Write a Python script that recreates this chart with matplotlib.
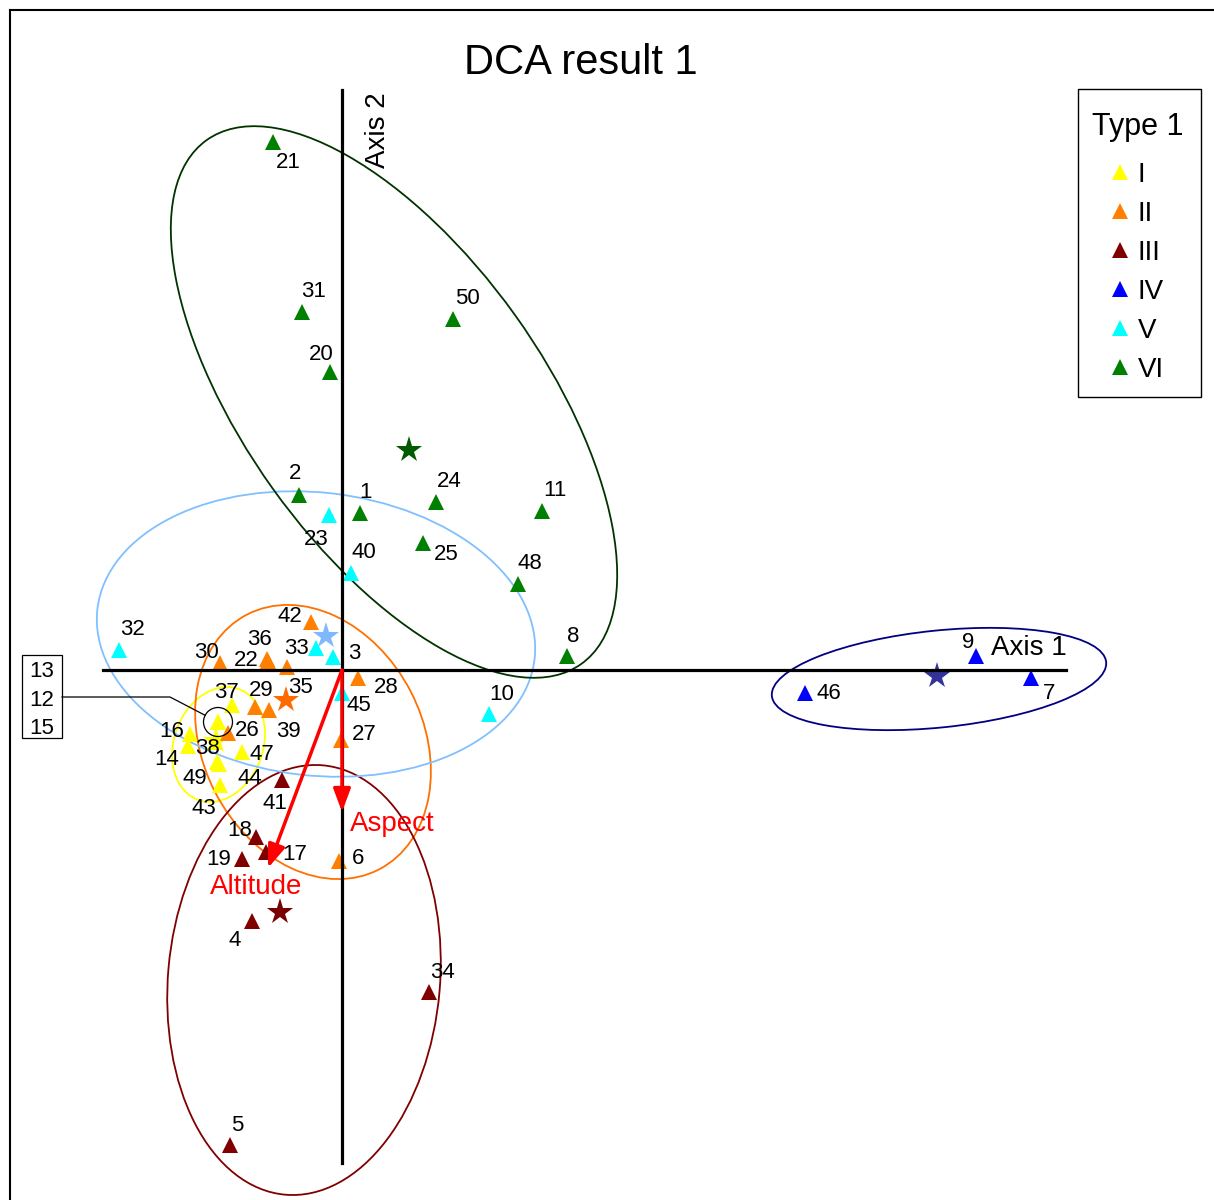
import numpy as np
import matplotlib
matplotlib.use('Agg')
import matplotlib.pyplot as plt
from matplotlib.patches import Ellipse, Circle, Rectangle
from matplotlib.lines import Line2D

plt.rcParams['font.family'] = ['Liberation Sans', 'DejaVu Sans']

# --- DCA site scores ---
site_ids = list(range(1, 51))
site_type = ['VI', 'VI', 'V', 'III', 'III', 'II', 'IV', 'VI', 'IV', 'V',
             'VI', 'I', 'I', 'I', 'I', 'I', 'III', 'III', 'III', 'VI',
             'VI', 'II', 'V', 'VI', 'VI', 'II', 'II', 'II', 'II', 'II',
             'VI', 'V', 'V', 'III', 'II', 'II', 'I', 'I', 'II', 'V',
             'III', 'II', 'I', 'I', 'V', 'IV', 'I', 'VI', 'I', 'VI']
axis1 = [0.18, -0.43, -0.09, -0.90, -1.12, -0.03, 6.89, 2.25, 6.34, 1.47,
         2.00, -1.24, -1.24, -1.54, -1.24, -1.52, -0.76, -0.86, -1.00, -0.12,
         -0.69, -0.74, -0.13, 0.94, 0.81, -1.14, -0.01, 0.16, -0.87, -1.22,
         -0.40, -2.23, -0.26, 0.87, -0.55, -0.75, -1.10, -1.27, -0.73, 0.09,
         -0.60, -0.31, -1.22, -1.23, 0.00, 4.63, -1.00, 1.76, -1.25, 1.11]
axis2 = [1.57, 1.75, 0.13, -2.51, -4.75, -1.91, -0.08, 0.14, 0.14, -0.44,
         1.59, -0.52, -0.52, -0.76, -0.52, -0.64, -1.82, -1.67, -1.89, 2.98,
         5.28, 0.09, 1.55, 1.68, 1.27, -0.63, -0.70, -0.08, -0.37, 0.07,
         3.58, 0.20, 0.22, -3.22, 0.03, 0.11, -0.35, -0.72, -0.40, 0.97,
         -1.10, 0.48, -1.15, -0.94, -0.23, -0.23, -0.82, 0.86, -0.92, 3.51]

# sites sharing one position, listed in a callout box
stacked_sites = [13, 12, 15]

groups = ['I', 'II', 'III', 'IV', 'V', 'VI']
group_color = {'I': '#FFFF00', 'II': '#FF8000', 'III': '#800000',
               'IV': '#0000FF', 'V': '#00FFFF', 'VI': '#008000'}
centroid_color = {'I': '#FFFF00', 'II': '#FF6A00', 'III': '#780000',
                  'IV': '#333399', 'V': '#80B8FF', 'VI': '#005A00'}

# group ellipses: centre x, centre y, width, height, angle
ell_x = {'I': -1.235, 'II': -0.29, 'III': -0.38, 'IV': 5.97, 'V': -0.26, 'VI': 0.52}
ell_y = {'I': -0.745, 'II': -0.72, 'III': -3.10, 'IV': -0.09, 'V': 0.36, 'VI': 2.68}
ell_w = {'I': 1.18, 'II': 2.87, 'III': 4.31, 'IV': 3.36, 'V': 4.40, 'VI': 6.44}
ell_h = {'I': 0.89, 'II': 2.20, 'III': 2.72, 'IV': 0.97, 'V': 2.83, 'VI': 2.98}
ell_ang = {'I': 69.7, 'II': -62.6, 'III': 85.0, 'IV': 5.8, 'V': -6.5, 'VI': -54.4}
ell_color = {'I': '#FFFF00', 'II': '#FF7000', 'III': '#800000',
             'IV': '#000080', 'V': '#80C0FF', 'VI': '#003300'}

# environmental vectors
env_names = ['Aspect', 'Altitude']
env_x = [0.0, -0.74]
env_y = [-1.42, -1.98]

# label offsets in pixels (right, up)
label_off = {1: (6, 23), 2: (-4, 24), 3: (21, 6), 4: (-17, -17), 5: (7, 22),
             6: (19, 5), 7: (18, -13), 8: (6, 22), 9: (-8, 16), 10: (13, 22),
             11: (13, 23), 14: (-21, -11), 16: (-18, 5), 17: (29, 0),
             18: (-16, 9), 19: (-23, 2), 20: (-9, 20), 21: (15, -18),
             22: (-22, 3), 23: (-13, -22), 24: (13, 23), 25: (23, -9),
             26: (19, 5), 27: (23, 8), 28: (28, -7), 29: (6, 19), 30: (-14, 13),
             31: (12, 23), 32: (13, 23), 33: (-20, 2), 34: (13, 22),
             35: (13, -18), 36: (-8, 22), 37: (-6, 15), 38: (-8, -4),
             39: (19, -19), 40: (13, 23), 41: (-7, -21), 42: (-21, 8),
             43: (-16, -21), 44: (31, -12), 45: (17, -10), 46: (24, 2),
             47: (20, 0), 48: (12, 23), 49: (-22, -14), 50: (14, 23)}

W, H = 1214, 1200
fig = plt.figure(figsize=(W / 100, H / 100), dpi=100)
ax = fig.add_axes([10 / W, 0, (W - 10) / W, (H - 10) / H])
ax.set_xlim(-3.32, 8.72)
ax.set_ylim(-5.30, 6.60)
ax.set_aspect('equal')
ax.set_xticks([])
ax.set_yticks([])
for side in ['right', 'bottom']:
    ax.spines[side].set_visible(False)
for side in ['left', 'top']:
    ax.spines[side].set_linewidth(1.5)

x = np.array(axis1)
y = np.array(axis2)
t = np.array(site_type)

for g in groups:
    ax.add_patch(Ellipse((ell_x[g], ell_y[g]), ell_w[g], ell_h[g], angle=ell_ang[g],
                         fill=False, edgecolor=ell_color[g], lw=1.3, zorder=1))

# DCA axes
ax.plot([-2.39, 7.24], [0, 0], color='black', lw=2.3, zorder=3)
ax.plot([0, 0], [-4.93, 5.80], color='black', lw=2.3, zorder=3)
ax.text(0.36, 5.40, 'Axis 2', rotation=90, fontsize=20, ha='center', va='center')
ax.text(6.49, 0.25, 'Axis 1', fontsize=20, ha='left', va='center_baseline')

for g in groups:
    m = t == g
    ax.plot(x[m].mean(), y[m].mean(), marker='*', ms=20, color=centroid_color[g],
            mew=0, ls='none', zorder=2)
    ax.plot(x[m], y[m], marker='^', ms=12, color=group_color[g], mew=0,
            ls='none', zorder=2.5)

for sid, sx, sy in zip(site_ids, x, y):
    if sid in stacked_sites:
        continue
    dx, dy = label_off[sid]
    ax.annotate(str(sid), (sx, sy), xytext=(dx, dy), textcoords='offset pixels',
                fontsize=16, ha='center', va='center_baseline', zorder=6)

# callout for the stacked sites
i0 = site_ids.index(stacked_sites[0])
cx, cy = x[i0], y[i0]
ax.add_patch(Circle((cx, cy), 0.145, fill=False, edgecolor='black', lw=0.9, zorder=5))
ax.add_patch(Rectangle((-3.20, -0.68), 0.40, 0.83, fill=False, edgecolor='black',
                       lw=0.9, zorder=5))
for k, sid in enumerate(stacked_sites):
    ax.text(-3.00, 0.01 - 0.285 * k, str(sid), fontsize=16, ha='center',
            va='center_baseline')
kx, ky = -1.72, -0.27
d = np.array([kx - cx, ky - cy])
d = d / np.hypot(*d) * 0.145
ax.plot([-2.80, kx, cx + d[0]], [ky, ky, cy + d[1]], color='black', lw=0.9, zorder=5)

# environmental arrows
for name, ex, ey in zip(env_names, env_x, env_y):
    ax.annotate('', xy=(ex, ey), xytext=(0, 0),
                arrowprops=dict(arrowstyle='-|>,head_length=0.7,head_width=0.26',
                                mutation_scale=20, color='#FF0000', lw=2.5,
                                shrinkA=0, shrinkB=0), zorder=4)
ax.text(env_x[0] + 0.08, env_y[0] - 0.09, env_names[0], color='#FF0000', fontsize=20,
        ha='left', va='center_baseline', zorder=6)
ax.text(env_x[1] - 0.12, env_y[1] - 0.16, env_names[1], color='#FF0000', fontsize=20,
        ha='center', va='center_baseline', zorder=6)

fig.text(581 / W, 1 - 58 / H, 'DCA result 1', fontsize=30, ha='center',
         va='center_baseline')

# legend box
def fpos(px, py):
    return px / W, 1 - py / H

fig.patches.append(Rectangle(fpos(1078, 397), 123 / W, 308 / H, fill=False,
                             edgecolor='black', lw=1, transform=fig.transFigure))
fig.text(*fpos(1138, 123), 'Type 1', fontsize=22, ha='center', va='center_baseline')
for i, g in enumerate(groups):
    mx, my = fpos(1120, 172 + 39 * i)
    fig.lines.append(Line2D([mx], [my], marker='^', ms=11, color=group_color[g],
                            mew=0, ls='none', transform=fig.transFigure))
    fig.text(*fpos(1138, 172 + 39 * i), g, fontsize=20, ha='left',
             va='center_baseline')

fig.savefig('out.png', dpi=100)
